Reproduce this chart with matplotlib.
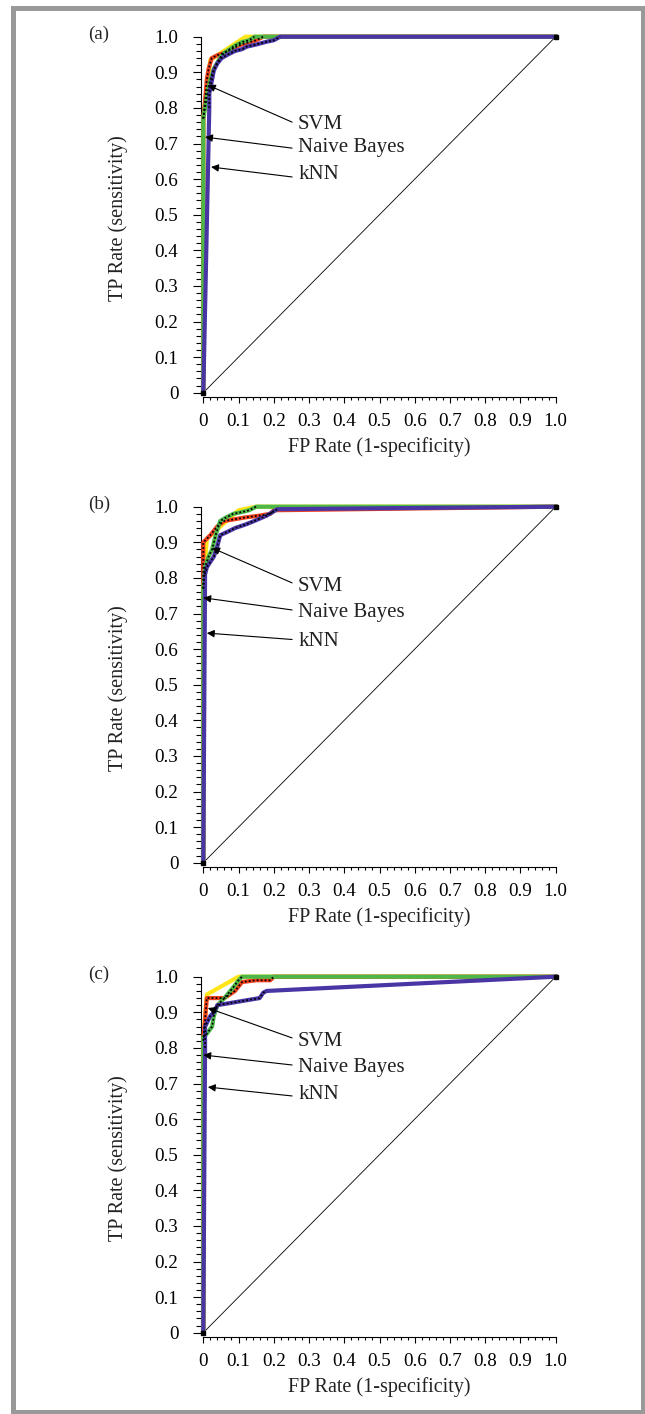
import matplotlib
matplotlib.use("Agg")
import matplotlib.pyplot as plt
from matplotlib.patches import Rectangle
from matplotlib.ticker import MultipleLocator, FixedLocator

plt.rcParams['font.family'] = ['Liberation Serif', 'DejaVu Serif']

# ---------------- data ----------------
panel_labels = ["(a)", "(b)", "(c)"]
tick_values = [0, 0.1, 0.2, 0.3, 0.4, 0.5, 0.6, 0.7, 0.8, 0.9, 1.0]
tick_labels = ["0", "0.1", "0.2", "0.3", "0.4", "0.5", "0.6", "0.7", "0.8", "0.9", "1.0"]
classifier_names = ["SVM", "Naive Bayes", "kNN"]

# panel (a)
svm_hull_a_fpr = [0, 0.0, 0.02, 0.12, 1.0]
svm_hull_a_tpr = [0, 0.77, 0.935, 1.0, 1.0]
svm_a_fpr = [0, 0.0, 0.005, 0.01, 0.015, 0.024, 0.04, 0.06, 0.08, 0.10, 0.12, 0.15, 0.17, 1.0]
svm_a_tpr = [0, 0.77, 0.82, 0.88, 0.91, 0.94, 0.948, 0.955, 0.965, 0.975, 0.982, 0.99, 1.0, 1.0]
nb_a_fpr = [0, 0.0, 0.005, 0.013, 0.02, 0.03, 0.047, 0.06, 0.075, 0.09, 0.11, 0.13, 0.145, 1.0]
nb_a_tpr = [0, 0.77, 0.80, 0.85, 0.88, 0.91, 0.94, 0.955, 0.965, 0.975, 0.985, 0.99, 1.0, 1.0]
knn_a_fpr = [0, 0.017, 0.017, 0.025, 0.03, 0.04, 0.052, 0.07, 0.09, 0.11, 0.123, 0.15, 0.18, 0.20, 0.218, 1.0]
knn_a_tpr = [0, 0.80, 0.84, 0.88, 0.906, 0.925, 0.94, 0.95, 0.96, 0.965, 0.972, 0.978, 0.986, 0.99, 1.0, 1.0]

# panel (b)
svm_hull_b_fpr = [0, 0.0, 0.01, 0.10, 0.15, 1.0]
svm_hull_b_tpr = [0, 0.77, 0.91, 0.99, 1.0, 1.0]
svm_b_fpr = [0, 0.0, 0.0, 0.01, 0.02, 0.04, 0.06, 0.09, 0.12, 0.16, 0.19, 0.20, 1.0]
svm_b_tpr = [0, 0.77, 0.90, 0.91, 0.92, 0.945, 0.96, 0.965, 0.97, 0.975, 0.98, 0.99, 1.0]
nb_b_fpr = [0, 0.0, 0.005, 0.015, 0.025, 0.035, 0.048, 0.065, 0.085, 0.11, 0.13, 0.15, 1.0]
nb_b_tpr = [0, 0.77, 0.83, 0.86, 0.88, 0.92, 0.96, 0.97, 0.98, 0.985, 0.99, 1.0, 1.0]
knn_b_fpr = [0, 0.005, 0.01, 0.02, 0.03, 0.04, 0.048, 0.07, 0.09, 0.12, 0.145, 0.18, 0.21, 1.0]
knn_b_tpr = [0, 0.81, 0.83, 0.845, 0.86, 0.89, 0.92, 0.93, 0.94, 0.95, 0.96, 0.975, 0.993, 1.0]

# panel (c)
svm_hull_c_fpr = [0, 0.0, 0.01, 0.10, 1.0]
svm_hull_c_tpr = [0, 0.82, 0.95, 1.0, 1.0]
svm_c_fpr = [0, 0.0, 0.01, 0.03, 0.06, 0.09, 0.11, 0.15, 0.19, 0.20, 1.0]
svm_c_tpr = [0, 0.82, 0.94, 0.94, 0.94, 0.96, 0.985, 0.99, 0.99, 1.0, 1.0]
nb_c_fpr = [0, 0.0, 0.01, 0.025, 0.03, 0.04, 0.06, 0.085, 0.10, 0.11, 1.0]
nb_c_tpr = [0, 0.83, 0.84, 0.86, 0.89, 0.92, 0.94, 0.97, 0.99, 1.0, 1.0]
knn_c_fpr = [0, 0.005, 0.005, 0.02, 0.03, 0.04, 0.07, 0.10, 0.13, 0.16, 0.17, 0.18, 1.0]
knn_c_tpr = [0, 0.80, 0.86, 0.89, 0.90, 0.92, 0.925, 0.93, 0.935, 0.94, 0.955, 0.96, 1.0]

# annotation arrows: tip (x, y) and text y per classifier
arrow_tip_x = {"a": [0.013, 0.005, 0.022], "b": [0.025, 0.0, 0.01], "c": [0.013, 0.0, 0.013]}
arrow_tip_y = {"a": [0.864, 0.718, 0.634], "b": [0.884, 0.744, 0.645], "c": [0.912, 0.780, 0.690]}
arrow_tail_y = {"a": [0.760, 0.687, 0.606], "b": [0.786, 0.710, 0.627], "c": [0.828, 0.752, 0.665]}
text_y = {"a": [0.752, 0.688, 0.614], "b": [0.776, 0.702, 0.620], "c": [0.818, 0.746, 0.668]}

panels = {
    "a": dict(hull=(svm_hull_a_fpr, svm_hull_a_tpr), svm=(svm_a_fpr, svm_a_tpr),
              nb=(nb_a_fpr, nb_a_tpr), knn=(knn_a_fpr, knn_a_tpr)),
    "b": dict(hull=(svm_hull_b_fpr, svm_hull_b_tpr), svm=(svm_b_fpr, svm_b_tpr),
              nb=(nb_b_fpr, nb_b_tpr), knn=(knn_b_fpr, knn_b_tpr)),
    "c": dict(hull=(svm_hull_c_fpr, svm_hull_c_tpr), svm=(svm_c_fpr, svm_c_tpr),
              nb=(nb_c_fpr, nb_c_tpr), knn=(knn_c_fpr, knn_c_tpr)),
}

# ---------------- styling ----------------
W, H = 645, 1414
fig = plt.figure(figsize=(W / 100, H / 100), dpi=100)
fig.patch.set_facecolor("white")

# outer gray frame
fig.patches.append(Rectangle((12.5 / W, 2.5 / H), (643 - 12.5) / W, (1411.5 - 7.5) / H,
                             transform=fig.transFigure, fill=False,
                             edgecolor="#999999", linewidth=3.6))

col_yellow = "#FFE51A"
col_red = "#F0401E"
col_green = "#4DB848"
col_blue = "#4A35A5"

ax_left = 203.3 / W
ax_w = 352.4 / W
ax_h = 356 / H
y0_pix = [392.7, 862.7, 1332.7]

tick_fs = 13.7
lab_fs = 14.5
ann_fs = 15

for i, key in enumerate(["a", "b", "c"]):
    bottom = (H - y0_pix[i]) / H
    ax = fig.add_axes([ax_left, bottom, ax_w, ax_h])
    ax.set_xlim(0, 1)
    ax.set_ylim(0, 1)
    ax.set_facecolor("none")
    for s in ["top", "right"]:
        ax.spines[s].set_visible(False)
    ax.spines["left"].set_position(("outward", 1.7))
    ax.spines["bottom"].set_position(("outward", 3.3))
    ax.spines["left"].set_linewidth(0.8)
    ax.spines["bottom"].set_linewidth(0.8)

    ax.xaxis.set_major_locator(FixedLocator(tick_values))
    ax.yaxis.set_major_locator(FixedLocator(tick_values))
    ax.set_xticklabels(tick_labels, fontsize=tick_fs)
    ax.set_yticklabels(tick_labels, fontsize=tick_fs)
    ax.xaxis.set_minor_locator(MultipleLocator(0.02))
    ax.yaxis.set_minor_locator(MultipleLocator(0.02))
    ax.tick_params(axis="y", which="major", length=5.8, width=0.8, pad=10.5, direction="out")
    ax.tick_params(axis="y", which="minor", length=3.6, width=0.8, direction="out")
    ax.tick_params(axis="x", which="major", length=4.3, width=0.8, pad=7, direction="out")
    ax.tick_params(axis="x", which="minor", length=2.2, width=0.8, direction="out")

    # diagonal
    ax.plot([0, 1], [0, 1], color="black", lw=0.6, clip_on=False, zorder=2)

    p = panels[key]
    ax.plot(*p["hull"], color=col_yellow, lw=3.0, clip_on=False, zorder=3)
    ax.plot(*p["svm"], color=col_red, lw=3.0, clip_on=False, zorder=4)
    ax.plot(*p["nb"], color=col_green, lw=3.0, clip_on=False, zorder=5)
    ax.plot(*p["knn"], color=col_blue, lw=3.0, clip_on=False, zorder=6)
    # black dotted overlay on the stepped part of each curve
    for k in ["svm", "nb", "knn"]:
        fx, ty = p[k]
        ax.plot(fx[1:-1], ty[1:-1], color="black", lw=1.3, ls=(0, (1, 1.2)),
                clip_on=False, zorder=7)
    ax.plot([0, 1], [0, 1], ls="none", marker="s", ms=2.5, color="black",
            clip_on=False, zorder=8)

    # annotations
    for j, name in enumerate(classifier_names):
        ax.annotate("", xy=(arrow_tip_x[key][j], arrow_tip_y[key][j]),
                    xytext=(0.252, arrow_tail_y[key][j]),
                    arrowprops=dict(arrowstyle="-|>", color="black", lw=0.8,
                                    mutation_scale=11, shrinkA=0, shrinkB=0),
                    annotation_clip=False, zorder=9)
        ax.text(0.269, text_y[key][j], name, fontsize=ann_fs, ha="left", va="center",
                color="#222222", zorder=9)

    ax.text(-0.242, 0.49, "TP Rate (sensitivity)", transform=ax.transAxes,
            rotation=90, ha="center", va="center", fontsize=lab_fs, color="#222222")
    ax.text(0.5, -0.152, "FP Rate (1-specificity)", transform=ax.transAxes,
            ha="center", va="center", fontsize=lab_fs, color="#222222")
    ax.text(-0.296, 1.008, panel_labels[i], transform=ax.transAxes,
            ha="center", va="center", fontsize=tick_fs, color="#222222")

fig.savefig("out.png", dpi=100)
